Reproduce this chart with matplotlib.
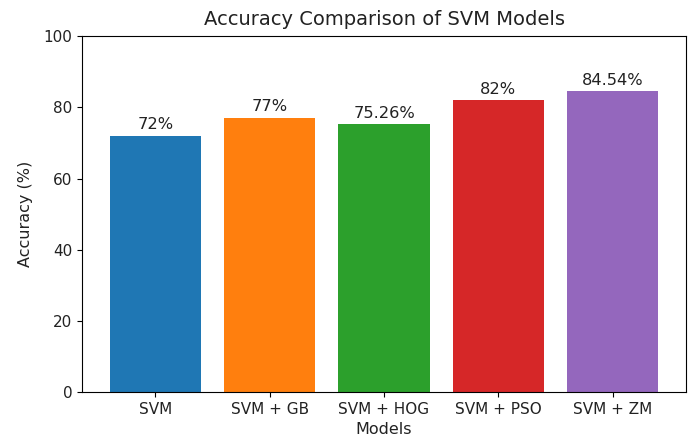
import matplotlib
matplotlib.use("Agg")
import matplotlib.pyplot as plt

models = ["SVM", "SVM + GB", "SVM + HOG", "SVM + PSO", "SVM + ZM"]
accuracy = [72, 77, 75.26, 82, 84.54]
labels = ["72%", "77%", "75.26%", "82%", "84.54%"]
colors = ["#1f77b4", "#ff7f0e", "#2ca02c", "#d62728", "#9467bd"]

fig = plt.figure(figsize=(6.97, 4.41), dpi=100)
ax = fig.add_axes([0.118, 0.111, 0.866, 0.807])
bars = ax.bar(models, accuracy, color=colors)
for b, lab in zip(bars, labels):
    ax.text(b.get_x() + b.get_width() / 2, b.get_height() + 1, lab,
            ha="center", va="bottom", fontsize=11.7, color="#222222")
ax.set_ylim(0, 100)
ax.tick_params(labelsize=11, labelcolor="#222222")
ax.set_xlabel("Models", fontsize=11.5, color="#222222")
ax.set_ylabel("Accuracy (%)", fontsize=11.5, labelpad=7.5, color="#222222")
ax.set_title("Accuracy Comparison of SVM Models", fontsize=14, pad=8, color="#222222")
fig.savefig("out.png", dpi=100)
